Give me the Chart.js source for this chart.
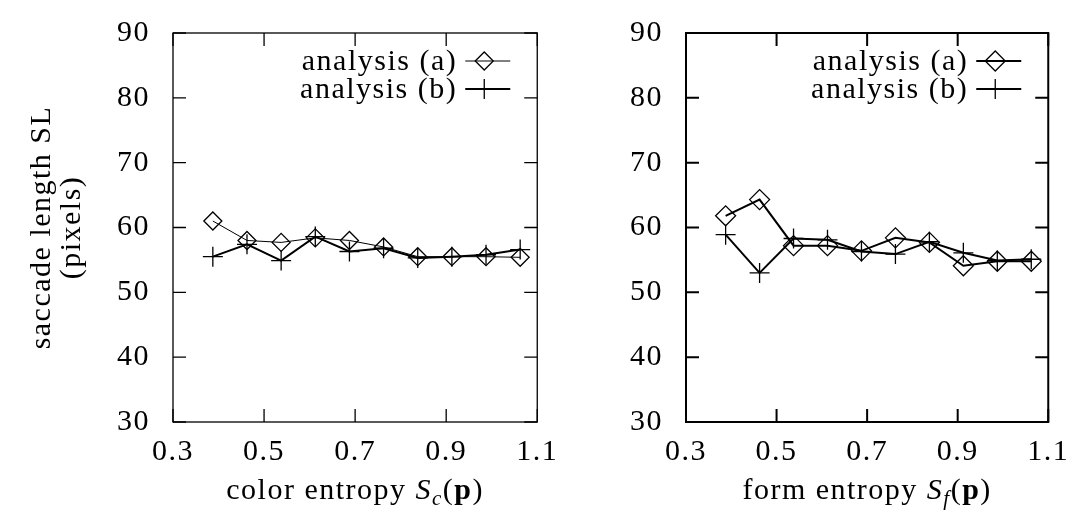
<!DOCTYPE html>
<html>
<head>
<meta charset="utf-8">
<script src="https://cdn.jsdelivr.net/npm/chart.js@4.4.1/dist/chart.umd.min.js"></script>
<style>
  html, body { margin: 0; padding: 0; background: #fff; }
  #wrap { position: relative; width: 1071px; height: 514px; }
  canvas { position: absolute; top: 0; }
  #esq { left: 0; }
  #dir { left: 560px; }
</style>
</head>
<body>
<div id="wrap">
  <canvas id="esq" width="560" height="514"></canvas>
  <canvas id="dir" width="511" height="514"></canvas>
</div>
<script>
// centros dos bins de entropia (eixo x)
const entropia = [0.3875, 0.4625, 0.5375, 0.6125, 0.6875, 0.7625, 0.8375, 0.9125, 0.9875, 1.0625];

// entropia de cor - painel esquerdo
const corA = [61.0, 58.0, 57.7, 58.4, 58.0, 57.0, 55.5, 55.5, 55.5, 55.4];
const corB = [55.5, 57.4, 54.9, 58.6, 56.3, 56.8, 55.3, 55.5, 55.8, 56.6];

// entropia de forma - painel direito
const formaA = [61.8, 64.3, 57.2, 57.2, 56.4, 58.4, 57.7, 54.1, 54.8, 54.8];
const formaB = [58.9, 53.0, 58.3, 58.1, 56.3, 55.9, 57.8, 56.1, 54.9, 55.1];

// ticks
const ticksX = [0.3, 0.5, 0.7, 0.9, 1.1];
const ticksY = [30, 40, 50, 60, 70, 80, 90];

const FONTE = '"Liberation Serif", "DejaVu Serif", serif';
const TAM = 30;
const ESPACO = '1.5px';   // aproxima a largura da fonte do LaTeX

// espaçamento entre letras para todo o texto desenhado
const espacamento = {
    id: 'espacamento',
    beforeDraw(chart) { chart.ctx.letterSpacing = ESPACO; },
    afterDraw(chart) { chart.ctx.letterSpacing = '0px'; }
};

// moldura com ticks para dentro nos quatro lados
const moldura = {
    id: 'moldura',
    beforeDatasetsDraw(chart, args, opts) {
        const { ctx, chartArea: a } = chart;
        const sx = chart.scales.x, sy = chart.scales.y;
        const tl = 13;
        ctx.save();
        ctx.strokeStyle = '#000';
        ctx.lineWidth = opts.lw;
        ctx.strokeRect(a.left, a.top, a.right - a.left, a.bottom - a.top);
        ctx.beginPath();
        sx.ticks.forEach(t => {
            const px = sx.getPixelForValue(t.value);
            ctx.moveTo(px, a.bottom); ctx.lineTo(px, a.bottom - tl);
            ctx.moveTo(px, a.top); ctx.lineTo(px, a.top + tl);
        });
        sy.ticks.forEach(t => {
            const py = sy.getPixelForValue(t.value);
            ctx.moveTo(a.left, py); ctx.lineTo(a.left + tl, py);
            ctx.moveTo(a.right, py); ctx.lineTo(a.right - tl, py);
        });
        ctx.stroke();
        ctx.restore();
    }
};

// legenda estilo gnuplot: texto à esquerda, amostra à direita
const legendaGp = {
    id: 'legendaGp',
    afterDatasetsDraw(chart, args, opts) {
        const { ctx, chartArea: a } = chart;
        ctx.save();
        ctx.font = TAM + 'px ' + FONTE;
        ctx.fillStyle = '#000';
        ctx.textAlign = 'right';
        ctx.textBaseline = 'middle';
        chart.data.datasets.forEach((ds, i) => {
            const y = opts.y0 + i * opts.dy;
            ctx.fillText(ds.label, a.right - opts.texto, y + 1);
            ctx.strokeStyle = '#000';
            ctx.lineWidth = ds.borderWidth;
            ctx.beginPath();
            ctx.moveTo(a.right - opts.linha[0], y);
            ctx.lineTo(a.right - opts.linha[1], y);
            ctx.stroke();
            ctx.lineWidth = ds.pointBorderWidth;
            ctx.fillStyle = 'rgba(0,0,0,0)';
            Chart.helpers.drawPoint(ctx, {
                pointStyle: ds.pointStyle, radius: ds.pointRadius,
                rotation: 0, borderWidth: ds.pointBorderWidth
            }, a.right - opts.marca, y);
            ctx.fillStyle = '#000';
        });
        ctx.restore();
    }
};

// título do eixo x com itálico, subscrito e negrito
const tituloX = {
    id: 'tituloX',
    afterDraw(chart, args, opts) {
        const { ctx, chartArea: a } = chart;
        const partes = opts.partes;
        ctx.save();
        ctx.letterSpacing = ESPACO;
        ctx.fillStyle = '#000';
        ctx.textBaseline = 'alphabetic';
        ctx.textAlign = 'left';
        let total = 0;
        partes.forEach(p => {
            ctx.font = p.f + ' ' + (p.sub ? 21 : TAM) + 'px ' + FONTE;
            p.w = ctx.measureText(p.t).width;
            total += p.w;
        });
        let x = (a.left + a.right) / 2 - total / 2;
        partes.forEach(p => {
            ctx.font = p.f + ' ' + (p.sub ? 21 : TAM) + 'px ' + FONTE;
            ctx.fillText(p.t, x, opts.y + (p.sub ? 6 : 0));
            x += p.w;
        });
        ctx.restore();
    }
};

function serie(label, valores, estilo, largura, raio) {
    return {
        label: label,
        data: entropia.map((x, i) => ({ x: x, y: valores[i] })),
        borderColor: '#000',
        borderWidth: largura,
        pointStyle: estilo,
        pointRadius: raio,
        pointHoverRadius: raio,
        pointBorderWidth: 1.3,
        pointBorderColor: '#000',
        pointBackgroundColor: 'rgba(0,0,0,0)',
        fill: false,
        tension: 0
    };
}

function opcoes(larguraY, tituloY, padDir, lw, partes) {
    return {
        responsive: false,
        animation: false,
        devicePixelRatio: 1,
        layout: { padding: { left: 0, top: 20, right: padDir, bottom: 0 } },
        scales: {
            x: {
                type: 'linear', min: 0.3, max: 1.1,
                grid: { display: false }, border: { display: false },
                afterBuildTicks: s => { s.ticks = ticksX.map(v => ({ value: v })); },
                afterFit: s => { s.height = 92; },
                ticks: {
                    padding: 4, color: '#000',
                    font: { family: FONTE, size: TAM },
                    callback: v => v.toFixed(1)
                }
            },
            y: {
                type: 'linear', min: 30, max: 90,
                grid: { display: false }, border: { display: false },
                afterBuildTicks: s => { s.ticks = ticksY.map(v => ({ value: v })); },
                afterFit: s => { s.width = larguraY; },
                ticks: {
                    padding: 15, color: '#000',
                    font: { family: FONTE, size: TAM }
                },
                title: {
                    display: !!tituloY, text: tituloY, color: '#000',
                    font: { family: FONTE, size: TAM, lineHeight: 1.0 },
                    padding: { top: 27, bottom: 0 }
                }
            }
        },
        plugins: {
            legend: { display: false },
            tooltip: { enabled: false },
            moldura: { lw: lw },
            legendaGp: { y0: 61, dy: 28, texto: 80, marca: 53, linha: [72, 27] },
            tituloX: { y: 499, partes: partes }
        }
    };
}

new Chart(document.getElementById('esq'), {
    type: 'line',
    data: {
        datasets: [
            serie('analysis (a)', corA, 'rectRot', 1, 9),
            serie('analysis (b)', corB, 'cross', 2, 10)
        ]
    },
    options: opcoes(173, ['saccade length SL', '(pixels)'], 21, 1.3, [
        { t: 'color entropy ', f: 'normal' },
        { t: 'S', f: 'italic' },
        { t: 'c', f: 'italic', sub: true },
        { t: '(', f: 'normal' },
        { t: 'p', f: 'bold' },
        { t: ')', f: 'normal' }
    ]),
    plugins: [espacamento, moldura, legendaGp, tituloX]
});

new Chart(document.getElementById('dir'), {
    type: 'line',
    data: {
        datasets: [
            serie('analysis (a)', formaA, 'rectRot', 2, 10),
            serie('analysis (b)', formaB, 'cross', 2, 10)
        ]
    },
    options: opcoes(126, '', 20, 2, [
        { t: 'form entropy ', f: 'normal' },
        { t: 'S', f: 'italic' },
        { t: 'f', f: 'italic', sub: true },
        { t: '(', f: 'normal' },
        { t: 'p', f: 'bold' },
        { t: ')', f: 'normal' }
    ]),
    plugins: [espacamento, moldura, legendaGp, tituloX]
});
</script>
</body>
</html>
